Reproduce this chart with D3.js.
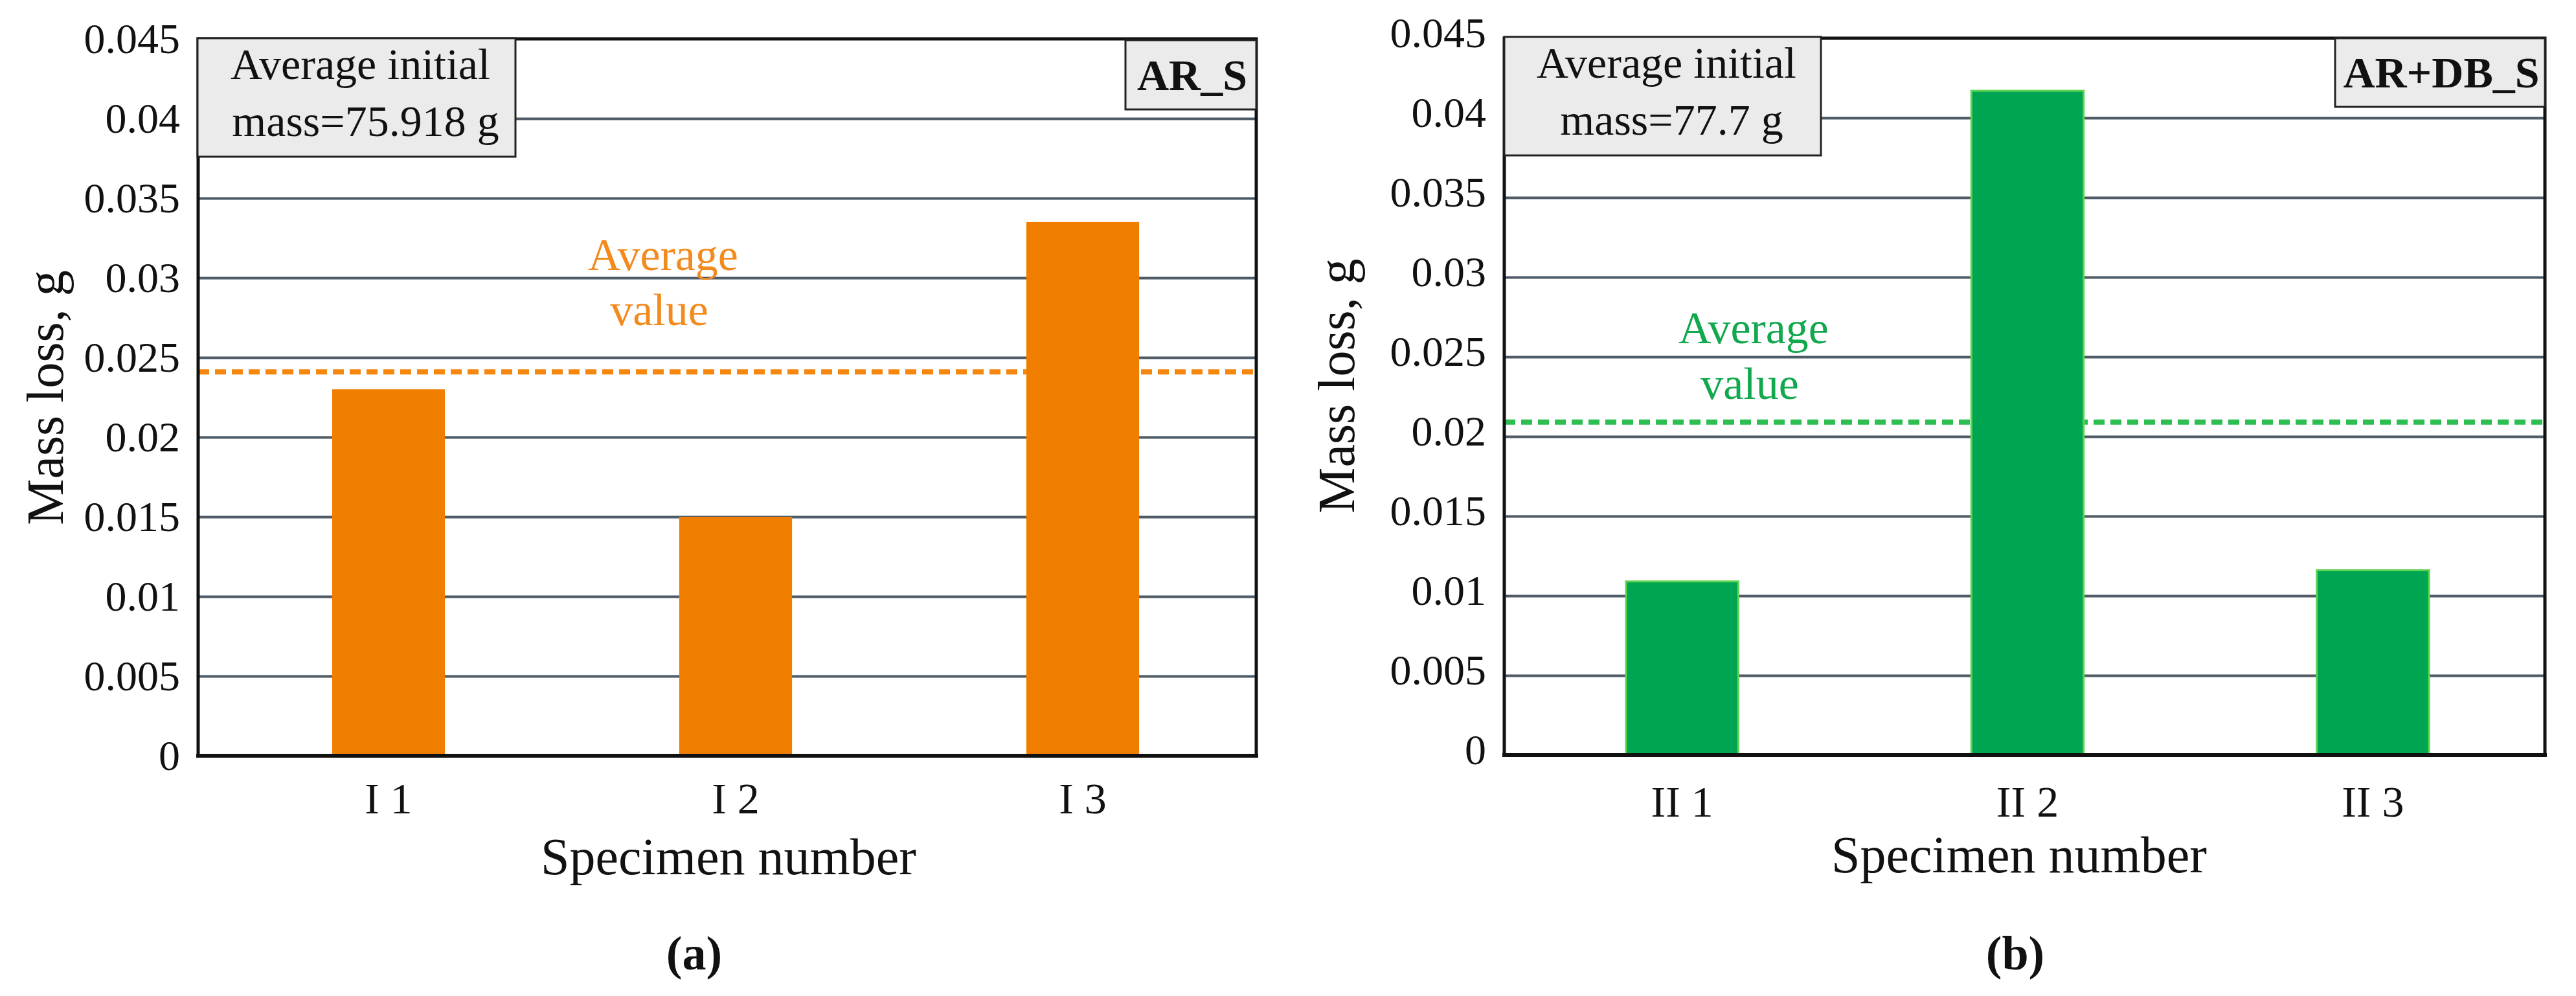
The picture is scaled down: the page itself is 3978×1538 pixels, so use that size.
<!DOCTYPE html>
<html>
<head>
<meta charset="utf-8">
<script src="https://cdn.jsdelivr.net/npm/d3@7"></script>
<style>
  body { margin: 0; background: #fff; }
  svg { display: block; font-family: "Liberation Serif", "DejaVu Serif", serif; }
</style>
</head>
<body>
<svg id="chart" width="3978" height="1538"></svg>
<script>
// values
const yTicks = [0, 0.005, 0.01, 0.015, 0.02, 0.025, 0.03, 0.035, 0.04, 0.045];
const yTickLabels = ["0", "0.005", "0.01", "0.015", "0.02", "0.025", "0.03", "0.035", "0.04", "0.045"];

const categoriesA = ["I 1", "I 2", "I 3"];
const massLossA = [0.0230, 0.0150, 0.0335];
const averageA = 0.0241;

const categoriesB = ["II 1", "II 2", "II 3"];
const massLossB = [0.0109, 0.0417, 0.0116];
const averageB = 0.0209;

const seriesNames = ["AR_S", "AR+DB_S"];
const initialMass = ["75.918", "77.7"];
const panelLetters = ["(a)", "(b)"];

const svg = d3.select("#chart");

// layout of each panel (pixels)
const panels = [
  {
    cats: categoriesA, vals: massLossA, avg: averageA, name: seriesNames[0], mass: initialMass[0], letter: panelLetters[0],
    left: 306, right: 1940, top: 60, bottom: 1167, xr: [332, 1940],
    barFill: "#F07F00", barStroke: "none", avgColor: "#F5870F", txtColor: "#F38A1E",
    labDy: 0, massBox: [305, 59, 796, 242], nameBox: [1738, 62, 1940, 169],
    avgText: [1024, 417, 502], titleY: [97, 614], xTitle: [1125, 1350], letterPos: [1072, 1497],
    xLabY: 89, bold: "bold"
  },
  {
    cats: categoriesB, vals: massLossB, avg: averageB, name: seriesNames[1], mass: initialMass[1], letter: panelLetters[1],
    left: 2323, right: 3930, top: 59, bottom: 1166, xr: [2331, 3931],
    barFill: "#00A551", barStroke: "#5BD451", avgColor: "#2DBE51", txtColor: "#12A84E",
    labDy: -8, massBox: [2323, 57, 2812, 240], nameBox: [3606, 59, 3930, 165],
    avgText: [2708, 530, 616], titleY: [2091, 596], xTitle: [3118, 1347], letterPos: [3112, 1497],
    xLabY: 95, bold: "bold"
  }
];

panels.forEach((p) => {
  const g = svg.append("g");
  const w = p.right - p.left;

  const y = d3.scaleLinear().domain([0, 0.045]).range([p.bottom, p.top]);
  const x = d3.scaleBand().domain(p.cats).range(p.xr).paddingInner(0.675).paddingOuter(0.3375);

  // gridlines
  const grid = g.append("g")
    .attr("transform", `translate(${p.left},0)`)
    .call(d3.axisLeft(y).tickValues(yTicks.slice(1, -1)).tickSize(-w).tickFormat(""));
  grid.select(".domain").remove();
  grid.selectAll("line").attr("stroke", "#4E5A66").attr("stroke-width", 4);

  // average line (behind the bars)
  g.append("line")
    .attr("x1", p.left).attr("x2", p.right)
    .attr("y1", y(p.avg)).attr("y2", y(p.avg))
    .attr("stroke", p.avgColor).attr("stroke-width", 8)
    .attr("stroke-dasharray", "17 9");

  // bars
  g.selectAll("rect.bar")
    .data(p.vals)
    .enter()
    .append("rect")
    .attr("class", "bar")
    .attr("x", (d, i) => x(p.cats[i]))
    .attr("width", x.bandwidth())
    .attr("y", (d) => y(d))
    .attr("height", (d) => y(0) - y(d))
    .attr("fill", p.barFill)
    .attr("stroke", p.barStroke)
    .attr("stroke-width", 3);

  // frame
  g.append("rect")
    .attr("x", p.left).attr("y", p.top)
    .attr("width", w).attr("height", p.bottom - p.top)
    .attr("fill", "none").attr("stroke", "#111").attr("stroke-width", 5);
  g.append("line")
    .attr("x1", p.left - 3).attr("x2", p.right + 3)
    .attr("y1", p.bottom).attr("y2", p.bottom)
    .attr("stroke", "#111").attr("stroke-width", 6);

  // y axis labels
  const yAx = g.append("g")
    .attr("transform", `translate(${p.left},0)`)
    .call(d3.axisLeft(y).tickValues(yTicks).tickSize(0).tickPadding(28).tickFormat((d, i) => yTickLabels[i]));
  yAx.select(".domain").remove();
  yAx.selectAll("text")
    .attr("font-family", "Liberation Serif").attr("font-size", 66).attr("fill", "#111")
    .attr("y", p.labDy);

  // x axis labels
  const xAx = g.append("g")
    .attr("transform", `translate(0,${p.bottom})`)
    .call(d3.axisBottom(x).tickSize(0));
  xAx.select(".domain").remove();
  xAx.selectAll("text")
    .attr("font-family", "Liberation Serif").attr("font-size", 68).attr("fill", "#111")
    .attr("dy", null).attr("y", p.xLabY);

  // initial mass box
  const mb = p.massBox;
  g.append("rect")
    .attr("x", mb[0]).attr("y", mb[1]).attr("width", mb[2] - mb[0]).attr("height", mb[3] - mb[1])
    .attr("fill", "#EBEBEB").attr("stroke", "#222").attr("stroke-width", 3);
  const mcx = (mb[0] + mb[2]) / 2 + 6;
  g.append("text").attr("x", mcx).attr("y", mb[1] + 63)
    .attr("text-anchor", "middle").attr("font-size", 68).attr("fill", "#111")
    .text("Average initial");
  g.append("text").attr("x", mcx + 8).attr("y", mb[1] + 151)
    .attr("text-anchor", "middle").attr("font-size", 68).attr("fill", "#111")
    .text("mass=" + p.mass + " g");

  // series name box
  const nb = p.nameBox;
  g.append("rect")
    .attr("x", nb[0]).attr("y", nb[1]).attr("width", nb[2] - nb[0]).attr("height", nb[3] - nb[1])
    .attr("fill", "#EBEBEB").attr("stroke", "#222").attr("stroke-width", 3);
  g.append("text").attr("x", (nb[0] + nb[2]) / 2 + 2).attr("y", nb[3] - 30)
    .attr("text-anchor", "middle").attr("font-size", 68).attr("font-weight", p.bold).attr("fill", "#111")
    .text(p.name);

  // average value label
  g.append("text").attr("x", p.avgText[0]).attr("y", p.avgText[1])
    .attr("text-anchor", "middle").attr("font-size", 70).attr("fill", p.txtColor)
    .text("Average");
  g.append("text").attr("x", p.avgText[0] - 6).attr("y", p.avgText[2])
    .attr("text-anchor", "middle").attr("font-size", 70).attr("fill", p.txtColor)
    .text("value");

  // axis titles
  g.append("text")
    .attr("transform", `translate(${p.titleY[0]},${p.titleY[1]}) rotate(-90)`)
    .attr("text-anchor", "middle").attr("font-size", 80).attr("fill", "#111")
    .text("Mass loss, g");
  g.append("text").attr("x", p.xTitle[0]).attr("y", p.xTitle[1])
    .attr("text-anchor", "middle").attr("font-size", 80).attr("fill", "#111")
    .text("Specimen number");

  g.append("text").attr("x", p.letterPos[0]).attr("y", p.letterPos[1])
    .attr("text-anchor", "middle").attr("font-size", 74).attr("font-weight", "bold").attr("fill", "#111")
    .text(p.letter);
});
</script>
</body>
</html>
